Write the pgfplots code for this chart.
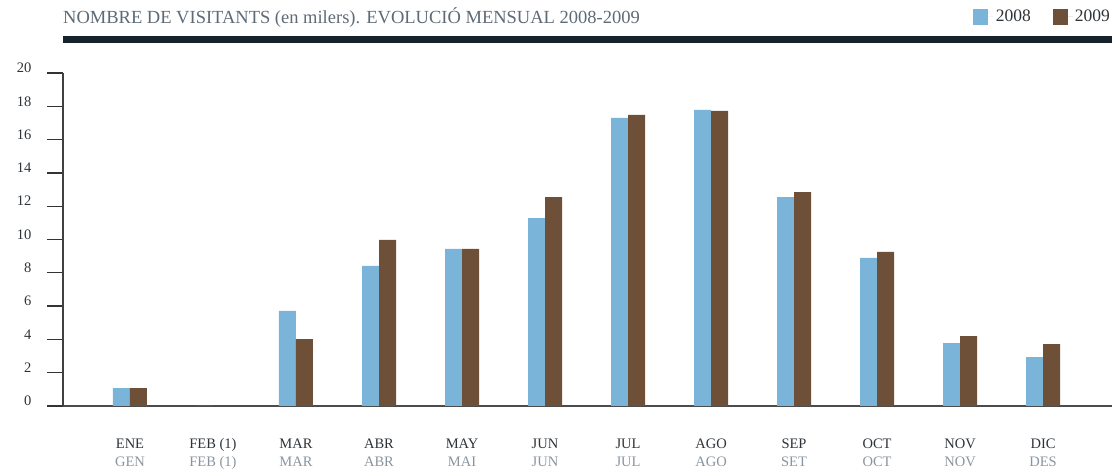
\documentclass[border=0pt]{standalone}
\usepackage{fontspec}
\setmainfont{Liberation Serif}
\usepackage{pgfplots}
\pgfplotsset{compat=1.18}
\usepackage{pgfplotstable}

\definecolor{c2008}{HTML}{7AB4D9}
\definecolor{c2009}{HTML}{6E5039}
\definecolor{titlegray}{HTML}{5E6A76}
\definecolor{labdark}{HTML}{2E3338}
\definecolor{labgray}{HTML}{8A949E}
\definecolor{rulecol}{HTML}{17232C}

% visitants (thousands), month index 0 = ENE
\pgfplotstableread{
x  v2008  v2009
0  1.08   1.08
1  0      0
2  5.71   4.02
3  8.41   9.97
4  9.43   9.43
5  11.29  12.55
6  17.30  17.48
7  17.78  17.72
8  12.55  12.85
9  8.89   9.25
10 3.78   4.20
11 2.94   3.72
}\visitants

\begin{document}
\begin{tikzpicture}[x=1pt,y=1pt]
\useasboundingbox (-63,-65) rectangle (1049,406);
\begin{axis}[
    at={(0,0)}, anchor=south west,
    scale only axis,
    width=1049pt, height=333pt,
    xmin=-0.807, xmax=11.831,
    ymin=0, ymax=20,
    ybar=0pt, bar width=17pt,
    axis x line*=bottom, axis y line*=left,
    x axis line style={-, draw=black!70, line width=2.2pt},
    y axis line style={-, draw=black!75, line width=1.6pt},
    tick align=outside,
    major tick length=16pt,
    ytick={0,2,...,20},
    ytick style={draw=black!80, line width=1.3pt},
    xtick={0,...,11},
    xtick style={draw=none},
    /pgf/number format/assume math mode=true,
    yticklabel style={font=\fontsize{14.5}{14.5}\selectfont, text=labdark, xshift=-12pt, yshift=5pt},
    xticklabel style={align=center, font=\fontsize{14.5}{18}\selectfont, yshift=-13pt},
    xticklabels={
      {\textcolor{labdark}{ENE}\\\textcolor{labgray}{GEN}},
      {\textcolor{labdark}{FEB (1)}\\\textcolor{labgray}{FEB (1)}},
      {\textcolor{labdark}{MAR}\\\textcolor{labgray}{MAR}},
      {\textcolor{labdark}{ABR}\\\textcolor{labgray}{ABR}},
      {\textcolor{labdark}{MAY}\\\textcolor{labgray}{MAI}},
      {\textcolor{labdark}{JUN}\\\textcolor{labgray}{JUN}},
      {\textcolor{labdark}{JUL}\\\textcolor{labgray}{JUL}},
      {\textcolor{labdark}{AGO}\\\textcolor{labgray}{AGO}},
      {\textcolor{labdark}{SEP}\\\textcolor{labgray}{SET}},
      {\textcolor{labdark}{OCT}\\\textcolor{labgray}{OCT}},
      {\textcolor{labdark}{NOV}\\\textcolor{labgray}{NOV}},
      {\textcolor{labdark}{DIC}\\\textcolor{labgray}{DES}}},
    legend columns=2,
    legend style={at={(1,1.195)}, anchor=north east, draw=none, fill=none,
      inner sep=0pt, font=\fontsize{17.5}{17.5}\selectfont, text=labdark,
      /tikz/every even column/.append style={column sep=20pt}},
]
\addplot[fill=c2008, draw=none,
  legend image code/.code={\fill[c2008] (0pt,-8pt) rectangle (15pt,8pt);
    \path (0pt,0pt) -- (21pt,0pt);}]
  table[x=x, y=v2008] {\visitants};
\addplot[fill=c2009, draw=none,
  legend image code/.code={\fill[c2009] (0pt,-8pt) rectangle (15pt,8pt);
    \path (0pt,0pt) -- (20pt,0pt);}]
  table[x=x, y=v2009] {\visitants};
\legend{2008, 2009}
\end{axis}
% header
\node[anchor=base west, inner sep=0pt, text=titlegray, font=\fontsize{18.5}{18.5}\selectfont]
  at (0,382) {NOMBRE DE VISITANTS (en milers). EVOLUCIÓ MENSUAL 2008-2009};
\fill[rulecol] (0,363) rectangle (1049,370);
\end{tikzpicture}
\end{document}
